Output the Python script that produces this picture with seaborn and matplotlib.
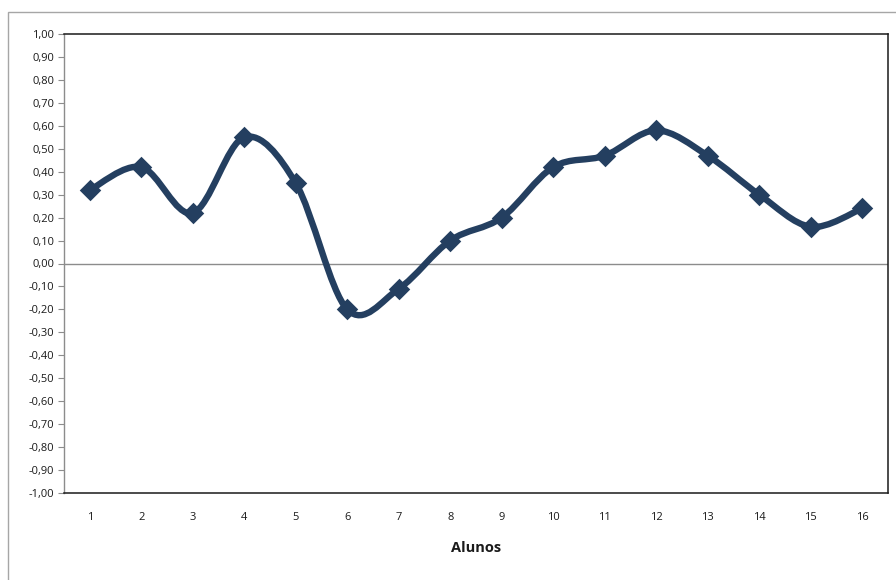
import numpy as np
import matplotlib
matplotlib.use("Agg")
import matplotlib.pyplot as plt
from matplotlib.path import Path
from matplotlib.patches import PathPatch, Rectangle
import seaborn as sns
import pandas as pd

# data
alunos = list(range(1, 17))
valores = [0.32, 0.42, 0.22, 0.55, 0.35, -0.20, -0.11, 0.10,
           0.20, 0.42, 0.47, 0.58, 0.47, 0.30, 0.16, 0.24]
y_ticks = np.round(np.arange(-1.0, 1.001, 0.1), 2)

LINE_COLOR = "#243f60"


def smooth_path(xs, ys):
    """Excel-like smoothed line: cubic Bezier segments through every point."""
    pts = np.column_stack([xs, ys]).astype(float)
    n = len(pts)
    verts = [pts[0]]
    codes = [Path.MOVETO]
    for i in range(n - 1):
        p0 = pts[i - 1] if i > 0 else pts[i]
        p1 = pts[i]
        p2 = pts[i + 1]
        p3 = pts[i + 2] if i + 2 < n else pts[i + 1]
        c1 = p1 + (p2 - p0) / 6.0
        c2 = p2 - (p3 - p1) / 6.0
        verts += [c1, c2, p2]
        codes += [Path.CURVE4] * 3
    return Path(verts, codes)


sns.set_style("white")
plt.rcParams['font.family'] = ['Open Sans', 'DejaVu Sans']

fig = plt.figure(figsize=(8.96, 5.80), dpi=100)
ax = fig.add_axes([64 / 896, 1 - 493 / 580, 824 / 896, 459 / 580])

# outer chart frame (Excel chart area border)
fig.patches.append(Rectangle((8 / 896, -0.05), 1.2, 1 - 12 / 580 + 0.05,
                             transform=fig.transFigure, fill=False,
                             edgecolor="#a6a6a6", linewidth=1.0))

ax.axhline(0, color="#8c8c8c", linewidth=1.0, zorder=1)

df = pd.DataFrame({"Alunos": alunos, "Valor": valores})
ax.add_patch(PathPatch(smooth_path(df["Alunos"], df["Valor"]), fill=False,
                       edgecolor=LINE_COLOR, linewidth=4.6,
                       capstyle="round", joinstyle="round", zorder=2))
sns.scatterplot(data=df, x="Alunos", y="Valor", marker="D", s=120,
                color=LINE_COLOR, edgecolor=LINE_COLOR, linewidth=0,
                ax=ax, zorder=3)

ax.set_xlim(0.5, 16.5)
ax.set_ylim(-1.0, 1.0)
ax.set_xticks(alunos)
ax.set_xticklabels([str(a) for a in alunos], fontsize=8, color="#1a1a1a")
ax.set_yticks(y_ticks)
ax.set_yticklabels([f"{v:.2f}".replace(".", ",").replace("-0,00", "0,00")
                    for v in y_ticks], fontsize=8, color="#1a1a1a")
ax.tick_params(axis="y", direction="out", length=4, width=0.8,
               color="#8c8c8c", pad=3, left=True)
ax.tick_params(axis="x", length=0, pad=14)

ax.set_xlabel("Alunos", fontsize=10.5, fontweight="bold", color="#1a1a1a",
              labelpad=13)
ax.set_ylabel("")

for side in ["top", "right", "bottom"]:
    ax.spines[side].set_color("#1a1a1a")
    ax.spines[side].set_linewidth(1.1)
ax.spines["left"].set_color("#8c8c8c")
ax.spines["left"].set_linewidth(1.0)

fig.savefig("out.png", dpi=100)
